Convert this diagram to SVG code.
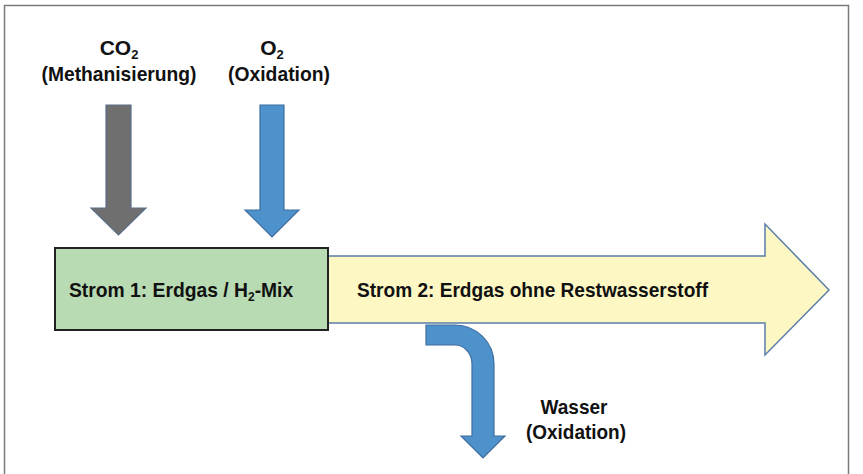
<svg xmlns="http://www.w3.org/2000/svg" width="863" height="474" viewBox="0 0 863 474">
<style>
.t{font-family:"Liberation Sans Narrow","Liberation Sans","DejaVu Sans Condensed",sans-serif;font-weight:bold;font-size:21px;fill:#111;}
.c{text-anchor:middle;}
.blue{fill:#4e92cc;stroke:#3d6e9e;stroke-width:1.2;}
</style>
<rect x="0" y="0" width="863" height="474" fill="#fff"/>
<path d="M4.5,474 V5.5 H848.5 V474" fill="none" stroke="#7a7a7a" stroke-width="1.5"/>
<g id="connectors">
<path id="co2-arrow" d="M106,105 H131 V208 H146 L118.5,235 L91,208 H106 Z" fill="#6f6f6f" stroke="#5b6e88" stroke-width="1.2"/>
<path id="o2-arrow" class="blue" d="M260,105 H284 V210 H299 L272,237 L245,210 H260 Z"/>
<path id="water-arrow" class="blue" d="M426,325 H455 A39,39 0 0 1 494,364 V436 H505 L483,458 L461,436 H472 V364 A17,19 0 0 0 455,345 H426 Z"/>
</g>
<g id="strom2">
<path d="M320,256 H765 V224 L829,290 L765,355 V323 H320 Z" fill="#fcf7c3" stroke="#5a7ea8" stroke-width="1.5"/>
<text class="t" x="357" y="297" textLength="351" lengthAdjust="spacingAndGlyphs">Strom 2: Erdgas ohne Restwasserstoff</text>
</g>
<g id="strom1">
<rect x="55" y="248" width="273" height="82" fill="#b8dbb3" stroke="#222" stroke-width="2"/>
<text class="t" x="69" y="297" font-size="19.3" style="font-size:19.3px">Strom 1: Erdgas / H<tspan font-size="12" style="font-size:12px" dy="4">2</tspan><tspan dy="-4">-Mix</tspan></text>
</g>
<g id="co2-label">
<text class="t c" x="119" y="55">CO<tspan font-size="13" style="font-size:13px" dy="4">2</tspan></text>
<text class="t c" x="119" y="81" textLength="155" lengthAdjust="spacingAndGlyphs">(Methanisierung)</text>
</g>
<g id="o2-label">
<text class="t c" x="272" y="55">O<tspan font-size="13" style="font-size:13px" dy="4">2</tspan></text>
<text class="t c" x="279" y="81" textLength="102" lengthAdjust="spacingAndGlyphs">(Oxidation)</text>
</g>
<g id="water-label">
<text class="t c" x="574" y="414" textLength="67" lengthAdjust="spacingAndGlyphs">Wasser</text>
<text class="t c" x="576" y="439" textLength="100" lengthAdjust="spacingAndGlyphs">(Oxidation)</text>
</g>
</svg>
